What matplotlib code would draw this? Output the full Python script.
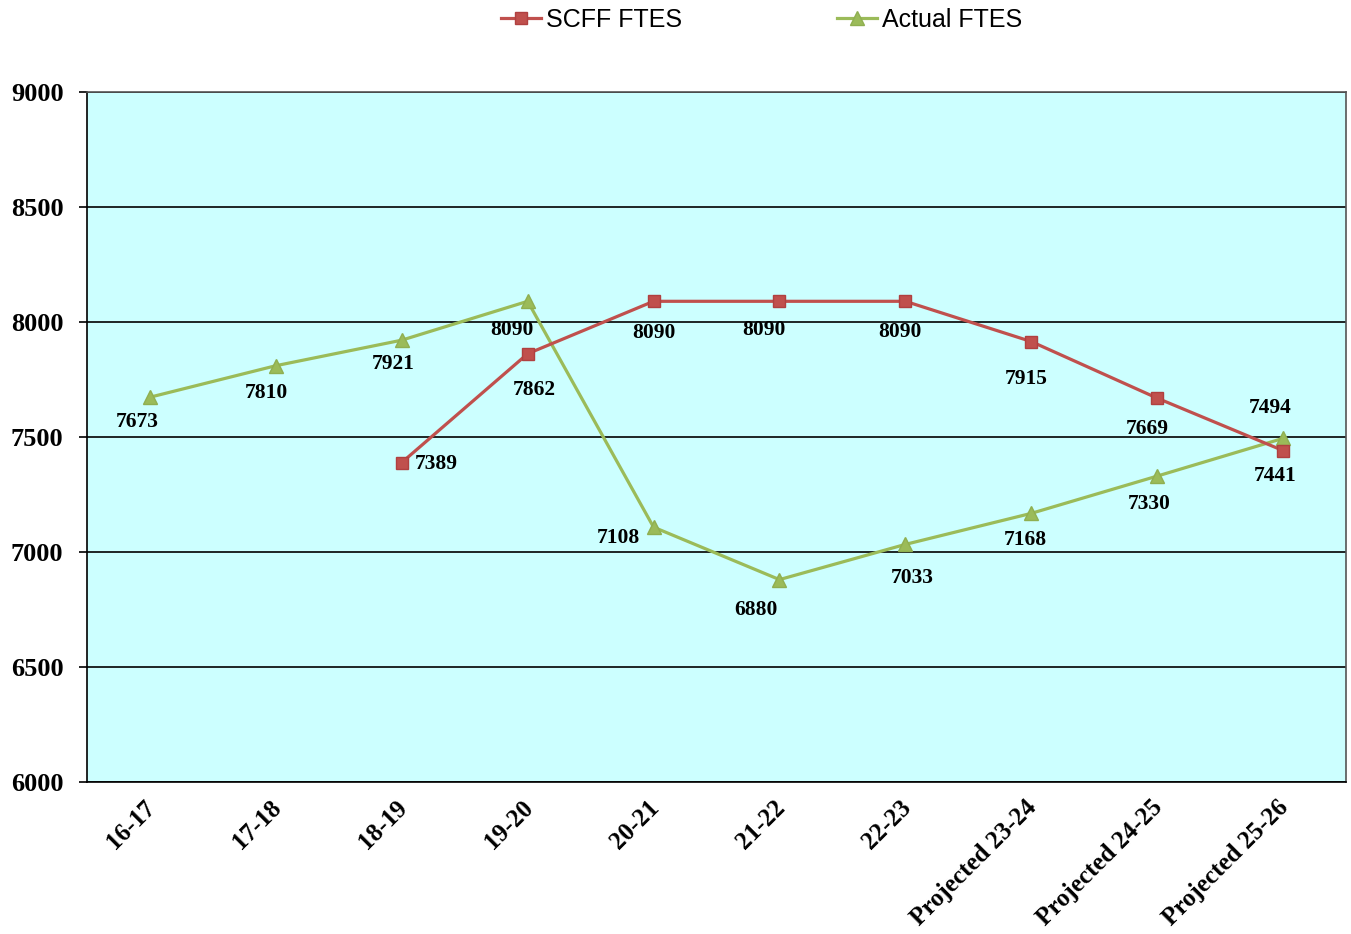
import matplotlib
matplotlib.use("Agg")
import matplotlib.pyplot as plt
import matplotlib.transforms as mtransforms

categories = ["16-17", "17-18", "18-19", "19-20", "20-21", "21-22", "22-23",
              "Projected 23-24", "Projected 24-25", "Projected 25-26"]
scff_idx = [2, 3, 4, 5, 6, 7, 8, 9]
scff_vals = [7389, 7862, 8090, 8090, 8090, 7915, 7669, 7441]
actual_idx = [0, 1, 2, 3, 4, 5, 6, 7, 8, 9]
actual_vals = [7673, 7810, 7921, 8090, 7108, 6880, 7033, 7168, 7330, 7494]
yticks = [6000, 6500, 7000, 7500, 8000, 8500, 9000]

# label offsets (points)
scff_off = [(25, -1), (5, -26), (0, -23), (-11, -21), (-4, -22), (-4, -27), (-7, -22), (-6, -18)]
actual_off = [(-9, -18), (-7, -20), (-6, -17), (-11, -21), (-25, -8), (-17, -22), (5, -24), (-4, -19), (-6, -20), (-9, 22)]

red = "#C0504D"
green = "#9BBB59"

fig = plt.figure(figsize=(13.51, 9.34), dpi=100)
ax = fig.add_axes([87/1351, 1-782/934, (1346-87)/1351, (782-92)/934])
ax.set_facecolor("#CCFFFF")

ax.plot(scff_idx, scff_vals, color=red, lw=2.3, marker="s", ms=9,
        mfc=red, mec="#B04040", label="SCFF FTES", zorder=4)
ax.plot(actual_idx, actual_vals, color=green, lw=2.3, marker="^", ms=9.5,
        mfc=green, mec="#8FAF50", label="Actual FTES", zorder=3)

lab_font = dict(family="Liberation Serif", weight="bold", size=15.5)
for x, v, o in zip(scff_idx, scff_vals, scff_off):
    ax.annotate(str(v), (x, v), xytext=o, textcoords="offset points",
                ha="center", va="center", **lab_font, zorder=5)
for x, v, o in zip(actual_idx, actual_vals, actual_off):
    ax.annotate(str(v), (x, v), xytext=o, textcoords="offset points",
                ha="center", va="center", **lab_font, zorder=5)

ax.set_xlim(-0.5, len(categories) - 0.5)
ax.set_ylim(6000, 9000)
ax.set_yticks(yticks)
ax.set_yticklabels([str(t) for t in yticks], family="Liberation Serif",
                   weight="bold", fontsize=19)
ax.yaxis.grid(True, color="black", lw=1.2)
ax.set_axisbelow(True)
ax.set_xticks(range(len(categories)))
ax.set_xticklabels(categories, rotation=45, ha="right", rotation_mode="anchor",
                   family="Liberation Serif", weight="bold", fontsize=18)
ax.tick_params(axis="x", length=0, pad=10)
ax.tick_params(axis="y", length=6, width=1.2, direction="out", pad=11)
shift = mtransforms.ScaledTranslation(-6/100, 0/100, fig.dpi_scale_trans)
for lbl in ax.get_xticklabels():
    lbl.set_transform(lbl.get_transform() + shift)
for s in ax.spines.values():
    s.set_color("black")
    s.set_linewidth(1.2)
ax.spines["top"].set_color("#555555")
ax.spines["right"].set_color("#555555")

fig.legend(loc="upper center", bbox_to_anchor=(0.5635, 1.016), ncol=2, frameon=False,
           prop=dict(family="Liberation Sans", size=18), columnspacing=6.2,
           handlelength=1.6, handletextpad=0.2)

fig.savefig("out.png", dpi=100, facecolor="white")
